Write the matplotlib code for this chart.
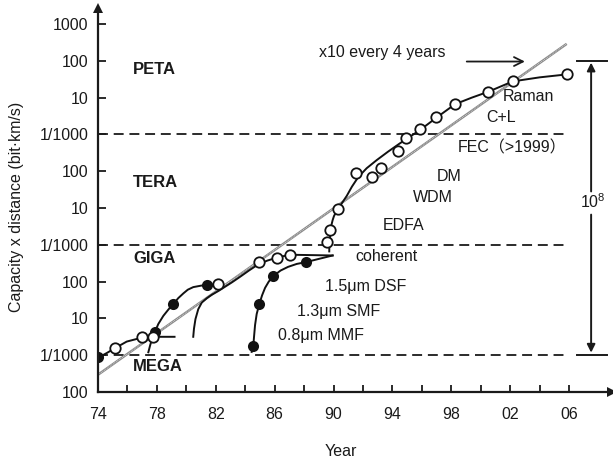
import numpy as np
import matplotlib
matplotlib.use("Agg")
import matplotlib.pyplot as plt

plt.rcParams['font.family'] = ['Liberation Sans', 'Noto Sans CJK JP', 'DejaVu Sans']
plt.rcParams['mathtext.fontset'] = 'custom'
plt.rcParams['mathtext.rm'] = 'Liberation Sans'

# ---- data (year, log10 of capacity x distance in bit*km/s) ----
open_years = [75.15, 77.0, 77.76, 82.17, 84.96, 86.14, 87.02, 89.55, 89.75, 90.32,
              91.51, 92.59, 93.21, 94.36, 94.90, 95.87, 96.94, 98.25, 100.51, 102.17, 105.84]
open_log = [6.19, 6.50, 6.50, 7.93, 8.53, 8.65, 8.73, 9.08, 9.41, 9.96,
            10.94, 10.85, 11.10, 11.56, 11.89, 12.14, 12.46, 12.83, 13.16, 13.45, 13.63]

filled_years = [74.0, 77.87, 79.12, 81.38, 84.55, 84.96, 85.91, 88.13]
filled_log = [5.96, 6.64, 7.39, 7.91, 6.25, 7.39, 8.15, 8.53]

curve1_years = [74.0, 74.6, 75.15, 75.95, 77.0, 77.76, 79.2]
curve1_log = [5.93, 6.06, 6.19, 6.37, 6.48, 6.50, 6.50]

curve2_years = [77.42, 77.55, 77.7, 77.87, 78.1, 78.44, 78.8, 79.12, 79.45, 79.8, 80.1, 80.47, 81.0, 81.38, 82.13]
curve2_log = [6.08, 6.28, 6.47, 6.64, 6.85, 7.07, 7.25, 7.39, 7.55, 7.68, 7.78, 7.85, 7.89, 7.91, 7.93]

curve3_years = [80.47, 80.52, 80.62, 80.81, 81.05, 81.4, 81.72, 82.2, 82.63, 83.1, 83.65, 84.25, 84.89, 85.5, 86.14, 87.02, 89.94]
curve3_log = [6.50, 6.72, 6.98, 7.25, 7.43, 7.55, 7.64, 7.75, 7.86, 7.98, 8.13, 8.30, 8.47, 8.57, 8.65, 8.73, 8.71]

curve4_years = [84.44, 84.55, 84.6, 84.67, 84.78, 84.96, 85.15, 85.35, 85.6, 85.91, 86.4, 86.91, 87.5, 88.13, 89.94]
curve4_log = [6.09, 6.25, 6.50, 6.82, 7.12, 7.39, 7.63, 7.83, 8.00, 8.15, 8.30, 8.40, 8.48, 8.53, 8.71]

curve5_years = [89.71, 89.72, 89.75, 89.8, 89.86, 89.94, 90.03, 90.15, 90.32, 90.6, 90.90, 91.25,
                91.68, 92.25, 92.93, 93.7, 94.52, 95.88, 97.01, 98.25, 99.4, 100.52, 102.17, 104.0, 105.84]
curve5_log = [8.82, 9.0, 9.18, 9.37, 9.54, 9.67, 9.78, 9.87, 9.98, 10.15, 10.33, 10.58,
              10.84, 11.08, 11.30, 11.53, 11.76, 12.12, 12.46, 12.82, 13.00, 13.16, 13.44, 13.55, 13.63]

trend_years = [74.0, 105.84]
trend_log = [5.47, 14.46]

level_log = [6, 9, 12]

ytick_log = [5, 6, 7, 8, 9, 10, 11, 12, 13, 14, 15]
ytick_labels = ['100', '1/1000', '10', '100', '1/1000', '10', '100', '1/1000', '10', '100', '1000']
xtick_major = [74, 78, 82, 86, 90, 94, 98, 102, 106]
xtick_labels = ['74', '78', '82', '86', '90', '94', '98', '02', '06']
xtick_minor = [76, 80, 84, 88, 92, 96, 100, 104]

band_labels = ['PETA', 'TERA', 'GIGA', 'MEGA']
band_log = [13.75, 10.68, 8.64, 5.68]

tech_labels = ['Raman', 'C+L', 'FEC（>1999）', 'DM', 'WDM', 'EDFA', 'coherent',
               '1.5μm DSF', '1.3μm SMF', '0.8μm MMF']
tech_years = [101.5, 100.4, 98.45, 97.03, 95.4, 93.36, 91.46, 89.42, 87.5, 86.2]
tech_log = [13.02, 12.45, 11.63, 10.85, 10.28, 9.52, 8.67, 7.86, 7.18, 6.53]

def p(v):
    return 10.0 ** np.asarray(v, dtype=float)

fig = plt.figure(figsize=(6.13, 4.61), dpi=100)
W, H = 613, 461
ax = fig.add_axes([98 / W, 69 / H, 514 / W, 384 / H])
ax.set_yscale('log')
ax.set_xlim(74, 74 + 514 / 14.72)
ax.set_ylim(1e5, 10 ** (5 + 384 / 36.8))

for s in ['top', 'right']:
    ax.spines[s].set_visible(False)
for s in ['left', 'bottom']:
    ax.spines[s].set_linewidth(1.6)
    ax.spines[s].set_color('#1a1a1a')
ax.plot([0], [1], marker='^', ms=7, color='#1a1a1a', transform=ax.transAxes, clip_on=False, mew=0)
ax.plot([1], [0], marker='>', ms=7, color='#1a1a1a', transform=ax.transAxes, clip_on=False, mew=0)

ax.set_yticks(p(ytick_log))
ax.set_yticklabels(ytick_labels)
ax.yaxis.set_minor_locator(matplotlib.ticker.NullLocator())
ax.set_xticks(xtick_major)
ax.set_xticklabels(xtick_labels)
ax.set_xticks(xtick_minor, minor=True)
ax.tick_params(axis='y', direction='in', length=6, width=1.3, labelsize=11.5, pad=7, colors='#1a1a1a')
ax.tick_params(axis='x', which='both', direction='in', length=5, width=1.3, labelsize=11.5, pad=11, colors='#1a1a1a')

# level dashed lines
for lv in level_log:
    ax.plot([74, 105.7], p([lv, lv]), ls=(0, (5.5, 3.2)), color='#1a1a1a', lw=1.3)

# trend line
ax.plot(trend_years, p(trend_log), color='#8a8a8a', lw=1.8, solid_capstyle='butt')
ax.plot(trend_years, p(trend_log), color='#e0e0e0', lw=0.6, ls=(0, (1, 1.2)))

# curves
for xs, ys in [(curve1_years, curve1_log), (curve2_years, curve2_log), (curve3_years, curve3_log),
               (curve4_years, curve4_log), (curve5_years, curve5_log)]:
    ax.plot(xs, p(ys), color='#111111', lw=1.4, solid_joinstyle='round')

ax.plot(filled_years, p(filled_log), 'o', ms=8, color='#111111', mew=0)
ax.plot(open_years, p(open_log), 'o', ms=7.5, mfc='white', mec='#111111', mew=1.3)

# band labels
for t, lv in zip(band_labels, band_log):
    ax.text(76.4, p(lv), t, fontsize=12, fontweight='bold', va='center', ha='left', color='#1a1a1a')

for t, x, lv in zip(tech_labels, tech_years, tech_log):
    ax.text(x, p(lv), t, fontsize=11.5, va='center', ha='left', color='#1a1a1a')

ax.text(89.0, p(14.22), 'x10 every 4 years', fontsize=11.5, va='center', ha='left', color='#1a1a1a')
ax.annotate('', xy=(103.0, p(13.98)), xytext=(99.05, p(13.98)),
            arrowprops=dict(arrowstyle='->', lw=1.3, color='#1a1a1a', mutation_scale=16,
                            shrinkA=0, shrinkB=0), annotation_clip=False)

# 10^8 span
for lv in [14, 6]:
    ax.plot([106.55, 108.6], p([lv, lv]), color='#1a1a1a', lw=1.4, clip_on=False)
ax.annotate('', xy=(107.5, p(13.95)), xytext=(107.5, p(10.45)),
            arrowprops=dict(arrowstyle='-|>', lw=1.4, color='#1a1a1a', mutation_scale=12,
                            shrinkA=0, shrinkB=0), annotation_clip=False)
ax.annotate('', xy=(107.5, p(6.07)), xytext=(107.5, p(9.82)),
            arrowprops=dict(arrowstyle='-|>', lw=1.4, color='#1a1a1a', mutation_scale=12,
                            shrinkA=0, shrinkB=0), annotation_clip=False)
ax.text(107.6, p(10.18), r'$\mathrm{10^8}$', fontsize=11.5, ha='center', va='center', color='#1a1a1a')

fig.text(341 / W, 1 - 451 / H, 'Year', fontsize=11.5, ha='center', va='center', color='#1a1a1a')
fig.text(17 / W, 1 - 207 / H, 'Capacity x distance (bit·km/s)', fontsize=11.5, rotation=90,
         ha='center', va='center', color='#1a1a1a')

fig.savefig('out.png', dpi=100)
